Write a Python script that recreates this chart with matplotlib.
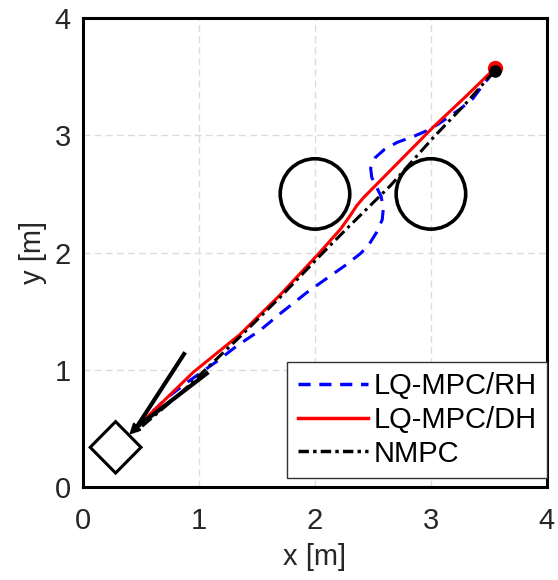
import numpy as np
import matplotlib.pyplot as plt
from matplotlib.patches import Circle, Rectangle
from matplotlib.lines import Line2D
import matplotlib.transforms as mtransforms

plt.rcParams['font.family'] = ['Liberation Sans', 'DejaVu Sans']

# trajectories [m]
rh_x = [3.55, 3.45, 3.36, 3.26, 3.16, 3.07, 2.99, 2.85, 2.71, 2.60, 2.52, 2.48, 2.49,
        2.53, 2.57, 2.59, 2.58, 2.53, 2.46, 2.39, 2.26, 2.13, 1.93, 1.70, 1.53, 1.32,
        1.15, 0.92, 0.72, 0.50]
rh_y = [3.55, 3.43, 3.31, 3.23, 3.16, 3.10, 3.05, 2.99, 2.94, 2.88, 2.81, 2.72, 2.64,
        2.56, 2.48, 2.38, 2.28, 2.17, 2.06, 1.99, 1.89, 1.80, 1.66, 1.48, 1.34, 1.20,
        1.07, 0.91, 0.76, 0.55]

dh_x = [3.55, 3.30, 3.02, 2.75, 2.55, 2.42, 2.36, 2.30, 2.22, 2.04, 1.70, 1.35, 0.95, 0.70, 0.45]
dh_y = [3.57, 3.33, 3.07, 2.80, 2.60, 2.47, 2.40, 2.31, 2.20, 2.00, 1.64, 1.30, 0.98, 0.74, 0.50]

nmpc_x = [3.55, 3.30, 3.02, 2.65, 2.27, 2.04, 1.70, 1.35, 0.84, 0.45]
nmpc_y = [3.55, 3.27, 2.98, 2.57, 2.20, 1.97, 1.62, 1.28, 0.80, 0.47]

# obstacles
obs_x = [2.0, 3.0]
obs_y = [2.5, 2.5]
obs_r = [0.3, 0.3]

# goal pose (square) and sensing cone
goal_xy = (0.28, 0.34)
goal_side = 0.31
goal_angle = 45
cone_tip = (0.46, 0.51)
cone_ends_x = [0.88, 1.08]
cone_ends_y = [1.15, 0.98]

fig = plt.figure(figsize=(5.58, 5.80), dpi=100)
ax = fig.add_axes([0.149, 0.160, 0.831, 0.809])

ax.grid(True, color='#dcdcdc', linestyle=(0, (5, 3)), linewidth=1.0)
ax.set_axisbelow(True)

for cx, cy, r in zip(obs_x, obs_y, obs_r):
    ax.add_patch(Circle((cx, cy), r, fill=False, edgecolor='k', linewidth=2.6, zorder=3))

sq = Rectangle((goal_xy[0] - goal_side / 2, goal_xy[1] - goal_side / 2), goal_side, goal_side,
               fill=False, edgecolor='k', linewidth=2.2, zorder=3)
sq.set_transform(mtransforms.Affine2D().rotate_deg_around(goal_xy[0], goal_xy[1], goal_angle)
                 + ax.transData)
ax.add_patch(sq)

ax.plot(rh_x, rh_y, color='#0000ff', linewidth=2.2, dashes=(4.5, 3), zorder=4)
ax.plot(dh_x, dh_y, color='#ff0000', linewidth=2.2, zorder=5)
ax.plot(nmpc_x, nmpc_y, color='k', linewidth=2.2, dashes=(4, 1.5, 1, 1.5), zorder=6)

# start points
ax.plot(dh_x[0], dh_y[0], 'o', color='#ff0000', markersize=10, zorder=7)
ax.plot(nmpc_x[0], nmpc_y[0], 'o', color='k', markersize=8, zorder=8)

for ex, ey in zip(cone_ends_x, cone_ends_y):
    ax.plot([cone_tip[0], ex], [cone_tip[1], ey], color='k', linewidth=3.0,
            solid_capstyle='butt', zorder=9)
ax.annotate('', xy=(cone_tip[0] - 0.08, cone_tip[1] - 0.08), xytext=cone_tip,
            arrowprops=dict(arrowstyle='-|>', mutation_scale=16, color='k',
                            facecolor='white', linewidth=1.5), zorder=9)

ax.set_xlim(0, 4)
ax.set_ylim(0, 4)
ax.set_xticks([0, 1, 2, 3, 4])
ax.set_yticks([0, 1, 2, 3, 4])
ax.tick_params(length=0, labelsize=21, colors='#262626')
ax.tick_params(axis='x', pad=14)
ax.tick_params(axis='y', pad=9)
for s in ax.spines.values():
    s.set_linewidth(2.2)
ax.set_xlabel('x [m]', fontsize=21, color='#262626', labelpad=6)
ax.set_ylabel('y [m]', fontsize=21, color='#262626', labelpad=5)

handles = [Line2D([], [], color='#0000ff', linewidth=2.5, dashes=(3.5, 2.5)),
           Line2D([], [], color='#ff0000', linewidth=2.5),
           Line2D([], [], color='k', linewidth=2.5, dashes=(3, 1.2, 1, 1.2))]
leg = ax.legend(handles, ['LQ-MPC/RH', 'LQ-MPC/DH', 'NMPC'], loc='lower right',
                bbox_to_anchor=(1.0, 0.02), borderaxespad=0, fontsize=21,
                fancybox=False, framealpha=1, edgecolor='#333333', handlelength=2.4,
                handletextpad=0.2, labelspacing=0.2, borderpad=0.35)
leg.get_frame().set_linewidth(1.0)
leg.set_zorder(20)

fig.savefig('out.png', dpi=100)
